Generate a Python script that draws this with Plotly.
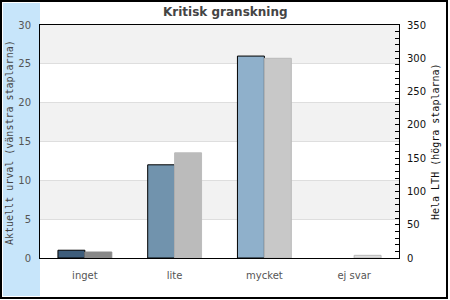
import plotly.graph_objects as go

# Survey answers: "Kritisk granskning"
categories = ["inget", "lite", "mycket", "ej svar"]
aktuellt_urval = [1, 12, 26, 0]      # left axis
hela_lth = [9, 158, 300, 4]          # right axis

left_colors = ["#3e5d7b", "#7193ad", "#8fb0cb", "#a9c4da"]
right_colors = ["#888888", "#bbbbbb", "#c8c8c8", "#dedede"]
right_lines = ["#8a8a8a", "#bbbbbb", "#b9b9b9", "#b9b9b9"]

W, H = 450, 300
L, R, T, B = 40, 51, 25, 42
pw, ph = W - L - R, H - T - B


def px_x(x):
    return (x - L) / pw


def px_y(y):
    return (H - B - y) / ph


# empty bars get no outline
left_line_widths = [1 if v > 0 else 0 for v in aktuellt_urval]

fig = go.Figure()
fig.add_trace(go.Bar(
    x=categories, y=aktuellt_urval, yaxis="y",
    offsetgroup="a", offset=-0.3, width=0.3,
    marker=dict(color=left_colors,
                line=dict(color="black", width=left_line_widths)),
    hoverinfo="skip", showlegend=False,
))
fig.add_trace(go.Bar(
    x=categories, y=hela_lth, yaxis="y2",
    offsetgroup="b", offset=0.0, width=0.3,
    marker=dict(color=right_colors, line=dict(color=right_lines, width=1)),
    hoverinfo="skip", showlegend=False,
))

shapes = []
# light-blue strip behind the left axis
shapes.append(dict(type="rect", xref="paper", yref="paper",
                   x0=px_x(3), x1=px_x(40), y0=px_y(296), y1=px_y(3),
                   fillcolor="#c7e5fa", line=dict(width=0), layer="below"))
# alternating horizontal bands
for lo in range(5, 30, 10):
    shapes.append(dict(type="rect", xref="x domain", yref="y",
                       x0=0, x1=1, y0=lo, y1=lo + 5,
                       fillcolor="#f2f2f2", line=dict(width=0), layer="below"))
# outer frame
shapes.append(dict(type="rect", xref="paper", yref="paper",
                   x0=px_x(1), x1=px_x(447), y0=px_y(298), y1=px_y(1),
                   line=dict(color="black", width=2), fillcolor="rgba(0,0,0,0)"))

annotations = [
    dict(text="Kritisk granskning", xref="paper", yref="paper",
         x=px_x(226), y=px_y(12), xanchor="center", yanchor="middle",
         showarrow=False,
         font=dict(family="DejaVu Sans", size=12, color="#444444", weight="bold")),
    dict(text="Aktuellt urval (vänstra staplarna)", xref="paper", yref="paper",
         x=px_x(9), y=px_y(143), xanchor="center", yanchor="middle",
         textangle=-90, showarrow=False,
         font=dict(family="DejaVu Sans Mono", size=10, color="#444444")),
    dict(text="Hela LTH (högra staplarna)", xref="paper", yref="paper",
         x=px_x(435), y=px_y(142), xanchor="center", yanchor="middle",
         textangle=-90, showarrow=False,
         font=dict(family="DejaVu Sans Mono", size=10, color="#111111")),
]

fig.update_layout(
    width=W, height=H,
    margin=dict(l=L, r=R, t=T, b=B, pad=0),
    paper_bgcolor="white", plot_bgcolor="white",
    barmode="group",
    shapes=shapes, annotations=annotations,
    xaxis=dict(
        showline=True, linecolor="black", linewidth=1, mirror=True,
        showgrid=False, zeroline=False,
        ticks="outside", ticklen=8, tickcolor="rgba(0,0,0,0)",
        tickfont=dict(family="DejaVu Sans", size=10, color="#555555"),
        fixedrange=True,
    ),
    yaxis=dict(
        range=[0, 30], dtick=5, tick0=0,
        showline=True, linecolor="black", linewidth=1,
        showgrid=True, gridcolor="#dedede", gridwidth=1, zeroline=False,
        ticks="outside", ticklen=6, tickcolor="rgba(0,0,0,0)",
        tickfont=dict(family="DejaVu Sans", size=10, color="#555555"),
        fixedrange=True,
    ),
    yaxis2=dict(
        range=[0, 350], dtick=50, tick0=0,
        overlaying="y", side="right",
        showline=True, linecolor="black", linewidth=1,
        showgrid=False, zeroline=False,
        ticks="inside", ticklen=4, tickcolor="black",
        minor=dict(dtick=10, ticks="inside", ticklen=4, tickcolor="black"),
        ticklabelstandoff=5,
        tickfont=dict(family="DejaVu Sans", size=10, color="#111111"),
        fixedrange=True,
    ),
)

fig.write_html("out.html", config={"displayModeBar": False})
